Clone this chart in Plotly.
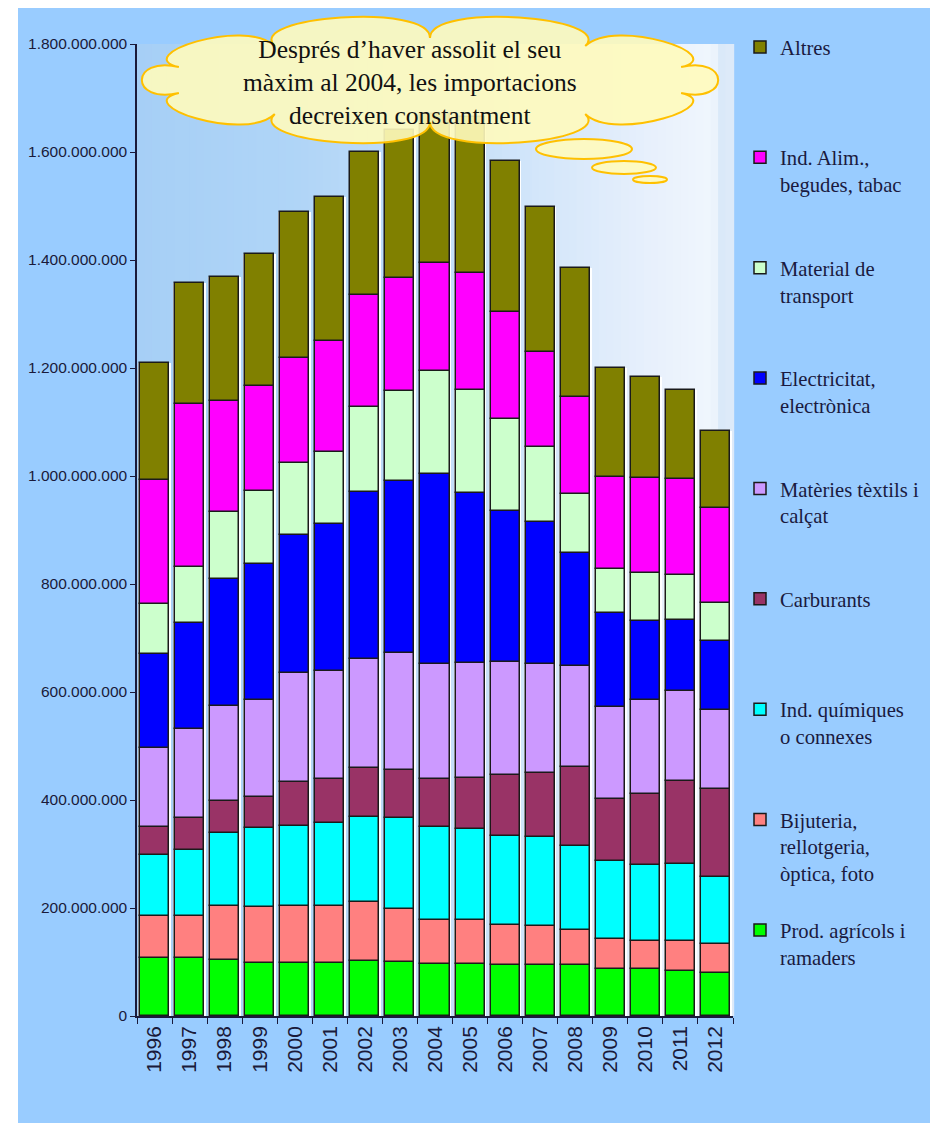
import numpy as np
import plotly.graph_objects as go

# ---------------- data (values in millions) ----------------
years = [str(y) for y in range(1996, 2013)]

prod_agricols = [107, 107, 104, 99, 98, 98, 101, 100, 96, 96, 94, 94, 94, 87, 87, 83, 80]
bijuteria = [78, 78, 99, 103, 105, 105, 111, 98, 82, 82, 75, 73, 66, 56, 52, 56, 53]
ind_quimiques = [113, 122, 135, 147, 149, 154, 157, 168, 172, 169, 165, 165, 154, 144, 140, 143, 125]
carburants = [52, 60, 60, 57, 81, 81, 90, 89, 89, 93, 112, 118, 148, 115, 133, 153, 162]
materies_textils = [147, 164, 176, 179, 202, 201, 203, 217, 213, 213, 210, 202, 186, 170, 173, 166, 147]
electricitat = [173, 196, 235, 252, 255, 272, 308, 318, 352, 315, 279, 262, 210, 174, 147, 133, 128]
material_transport = [93, 104, 125, 136, 134, 133, 158, 168, 190, 191, 170, 140, 108, 81, 88, 83, 69]
ind_alim = [230, 302, 204, 194, 194, 206, 207, 209, 201, 217, 198, 175, 181, 172, 176, 178, 176]
altres = [217, 225, 231, 244, 270, 266, 265, 273, 276, 288, 280, 269, 238, 201, 187, 165, 144]

series_names = [
    "Prod. agrícols i<br>ramaders",
    "Bijuteria,<br>rellotgeria,<br>òptica, foto",
    "Ind. químiques<br>o connexes",
    "Carburants",
    "Matèries tèxtils i<br>calçat",
    "Electricitat,<br>electrònica",
    "Material de<br>transport",
    "Ind. Alim.,<br>begudes, tabac",
    "Altres",
]
series_values = [prod_agricols, bijuteria, ind_quimiques, carburants, materies_textils,
                 electricitat, material_transport, ind_alim, altres]
series_colors = ["#00FF00", "#FF8080", "#00FFFF", "#993366", "#CC99FF",
                 "#0000FF", "#CCFFCC", "#FF00FF", "#808000"]

y_tick_values = [0, 200e6, 400e6, 600e6, 800e6, 1000e6, 1200e6, 1400e6, 1600e6, 1800e6]

cloud_text = "Després d’haver assolit el seu<br>màxim al 2004, les importacions<br>decreixen constantment"

# ---------------- geometry helpers (page pixels -> paper) ----------------
OFF = 8  # default body margin of the html page
W, H = 930, 1115
ML, MR, MT, MB = 129, 205, 36, 107
PW, PH = W - ML - MR, H - MT - MB


def px(X):
    return (X - OFF - ML) / PW


def py(Y):
    return 1 - (Y - OFF - MT) / PH


vals = np.array(series_values, dtype=float) * 1e6
bases = np.vstack([np.zeros(len(years)), np.cumsum(vals, axis=0)[:-1]])
totals = vals.sum(axis=0)

fig = go.Figure()

# white underlay (gives the light gaps between bars)
fig.add_trace(go.Bar(x=years, y=totals, width=0.93, marker=dict(color="white", line=dict(width=0)),
                     showlegend=False, hoverinfo="skip"))

LEGEND_LINES = 4
for name, v, b, c in zip(series_names, vals, bases, series_colors):
    n_lines = name.count("<br>") + 1
    padded = name + "<br> " * (LEGEND_LINES - n_lines)
    fig.add_trace(go.Bar(x=years, y=v, base=b, name=padded, width=0.83,
                         marker=dict(color=c, line=dict(color="#1a1a1a", width=1.5))))

shapes = []
# page background (white border on top/left)
shapes.append(dict(type="rect", xref="paper", yref="paper", x0=px(18), x1=px(940), y0=py(1125), y1=py(OFF),
                   fillcolor="#99CCFF", line=dict(width=0), layer="below"))

# plot area gradient
x_left, x_right = 137, 733
stops_x = [137, 300, 450, 560, 650, 712, 726, 733]
stops_c = [(166, 207, 246), (176, 213, 247), (196, 223, 249), (215, 232, 250),
           (231, 240, 252), (240, 246, 253), (208, 227, 247), (235, 243, 252)]
N = 80
for i in range(N):
    xa = x_left + i * (x_right - x_left) / N
    xb = x_left + (i + 1) * (x_right - x_left) / N
    xm = (xa + xb) / 2
    col = [int(round(np.interp(xm, stops_x, [c[k] for c in stops_c]))) for k in range(3)]
    shapes.append(dict(type="rect", xref="paper", yref="paper", x0=px(xa), x1=px(xb) + 0.002,
                       y0=0, y1=1, fillcolor="rgb(%d,%d,%d)" % tuple(col), line=dict(width=0), layer="below"))

# cloud callout
cx, cy, a, b, hx, hy = 430, 80, 264, 42, 52, 36
nb = 10
ts = np.linspace(0, 2 * np.pi, nb + 1) + np.pi / nb
pts = [(cx + a * np.cos(t), cy + b * np.sin(t)) for t in ts]
offs = [(hx * np.cos(t), hy * np.sin(t)) for t in ts]
path = "M%.4f,%.4f" % (px(pts[0][0]), py(pts[0][1]))
for k in range(nb):
    p0, p1 = pts[k], pts[k + 1]
    c1 = (p0[0] + offs[k][0], p0[1] + offs[k][1])
    c2 = (p1[0] + offs[k + 1][0], p1[1] + offs[k + 1][1])
    path += " C%.4f,%.4f %.4f,%.4f %.4f,%.4f" % (px(c1[0]), py(c1[1]), px(c2[0]), py(c2[1]),
                                                 px(p1[0]), py(p1[1]))
path += " Z"
cloud_fill = "rgba(255,251,188,0.9)"
cloud_line = dict(color="#FFC000", width=2)
shapes.append(dict(type="path", xref="paper", yref="paper", path=path, fillcolor=cloud_fill,
                   line=cloud_line, layer="above"))
for (x0, y0, x1, y1) in [(536, 139, 632, 159), (592, 161, 656, 174), (633, 176, 667, 183)]:
    shapes.append(dict(type="circle", xref="paper", yref="paper", x0=px(x0), x1=px(x1), y0=py(y1), y1=py(y0),
                       fillcolor=cloud_fill, line=cloud_line, layer="above"))

fig.update_layout(
    width=W, height=H,
    margin=dict(l=ML, r=MR, t=MT, b=MB, pad=0),
    paper_bgcolor="white",
    plot_bgcolor="rgba(0,0,0,0)",
    barmode="overlay",
    bargap=0,
    separators=",.",
    shapes=shapes,
    showlegend=True,
    legend=dict(x=px(740), y=py(27), xanchor="left", yanchor="top", traceorder="reversed",
                valign="top", bgcolor="rgba(0,0,0,0)", itemwidth=30, maxheight=1060,
                font=dict(family="Liberation Serif", size=20.65, color="#1a1a40")),
    annotations=[dict(text=cloud_text, x=px(410), y=py(83), xref="paper", yref="paper",
                      xanchor="center", yanchor="middle", showarrow=False, align="center",
                      font=dict(family="Liberation Serif", size=25.5, color="#111111"))],
    xaxis=dict(type="category", range=[-0.5, 16.5], tickson="boundaries", ticks="outside", ticklen=6,
               tickcolor="#1a1a3a", showline=True, linecolor="#1a1a3a", linewidth=1.5, tickangle=-90,
               showgrid=False, tickfont=dict(family="Liberation Sans", size=21, color="#1a1a3a")),
    yaxis=dict(range=[0, 1.8e9], tickvals=y_tick_values, tickformat=",", ticks="outside", ticklen=5,
               ticklabelstandoff=0,
               tickcolor="#1a1a3a", showline=True, linecolor="#1a1a3a", linewidth=1.5, showgrid=False,
               zeroline=False, tickfont=dict(family="Liberation Sans", size=15.5, color="#1a1a3a")),
)

fig.write_html("out.html")
